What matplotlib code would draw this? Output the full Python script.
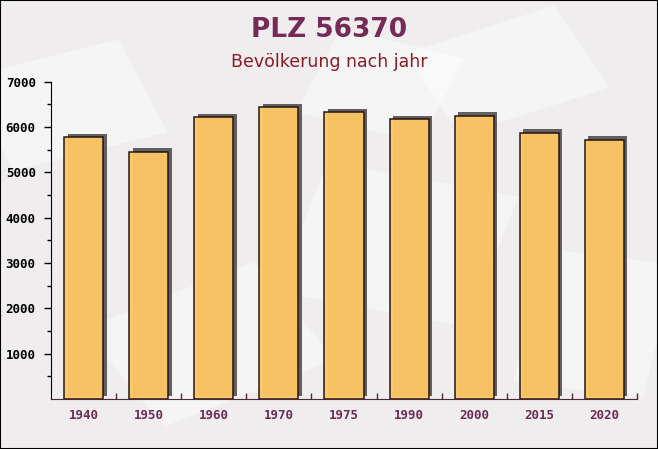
import numpy as np
import matplotlib
matplotlib.use("Agg")
import matplotlib.pyplot as plt
import matplotlib.transforms as mtransforms
from matplotlib.patches import Rectangle

# Data
years = ["1940", "1950", "1960", "1970", "1975", "1990", "2000", "2015", "2020"]
population = [5780, 5450, 6220, 6440, 6330, 6170, 6250, 5870, 5720]
yticks = [1000, 2000, 3000, 4000, 5000, 6000, 7000]

fig = plt.figure(figsize=(6.58, 4.49), dpi=100)
fig.patch.set_facecolor("#efedee")

# faint background texture (behind everything)
for (x, y, w, h, a) in [(0.02, 0.62, 0.25, 0.22, 20), (0.42, 0.35, 0.3, 0.3, -15),
                        (0.7, 0.7, 0.25, 0.2, 25), (0.25, 0.05, 0.3, 0.25, 30),
                        (0.78, 0.15, 0.2, 0.3, -10), (0.45, 0.75, 0.2, 0.2, -20)]:
    fig.patches.append(Rectangle((x, y), w, h, angle=a, transform=fig.transFigure,
                                 facecolor="white", alpha=0.45, edgecolor="none", zorder=-5))
fig.patches.append(Rectangle((0, 0), 1, 1, transform=fig.transFigure, fill=False,
                             edgecolor="black", linewidth=1.5, zorder=10))

ax = fig.add_axes([51 / 658, 50 / 449, 586 / 658, 317.3 / 449])
ax.set_facecolor("none")

x = np.arange(len(years))
shadow = ax.transData + mtransforms.ScaledTranslation(3.5 / 100, 3.5 / 100, fig.dpi_scale_trans)
ax.bar(x, population, width=0.6, color="#555050", alpha=0.9, transform=shadow, zorder=2)
ax.bar(x, population, width=0.6, color="#fcc664", alpha=0.97, edgecolor="#1e1212",
       linewidth=1.1, zorder=3)

ax.set_xlim(-0.5, len(years) - 0.5)
ax.set_ylim(0, 7000)

ax.set_yticks(yticks)
ax.set_yticklabels([str(v) for v in yticks], fontfamily="DejaVu Sans Mono",
                   fontweight="bold", fontsize=9, color="black")
ax.set_yticks(np.arange(500, 7000, 1000), minor=True)
ax.tick_params(axis="y", which="major", length=5, width=1, color="black", pad=6)
ax.tick_params(axis="y", which="minor", length=3, width=1, color="black")

ax.set_xticks(x)
ax.set_xticklabels(years, fontfamily="DejaVu Sans Mono", fontweight="bold",
                   fontsize=9, color="#6e2c52")
ax.set_xticks(np.arange(0.5, len(years), 1.0), minor=True)
ax.tick_params(axis="x", which="major", length=0, pad=7)
ax.tick_params(axis="x", which="minor", direction="in", length=4, width=1, color="#4a2a3a")

for s in ["top", "right"]:
    ax.spines[s].set_visible(False)
ax.spines["left"].set_color("black")
ax.spines["bottom"].set_color("#4a2a3a")

fig.text(0.5, 0.933, "PLZ 56370", ha="center", va="center", fontsize=19,
         fontweight="bold", color="#762b57")
fig.text(0.5, 0.862, "Bevölkerung nach jahr", ha="center", va="center",
         fontsize=12.5, color="#8b1c24")

fig.savefig("out.png", dpi=100, facecolor=fig.get_facecolor())
